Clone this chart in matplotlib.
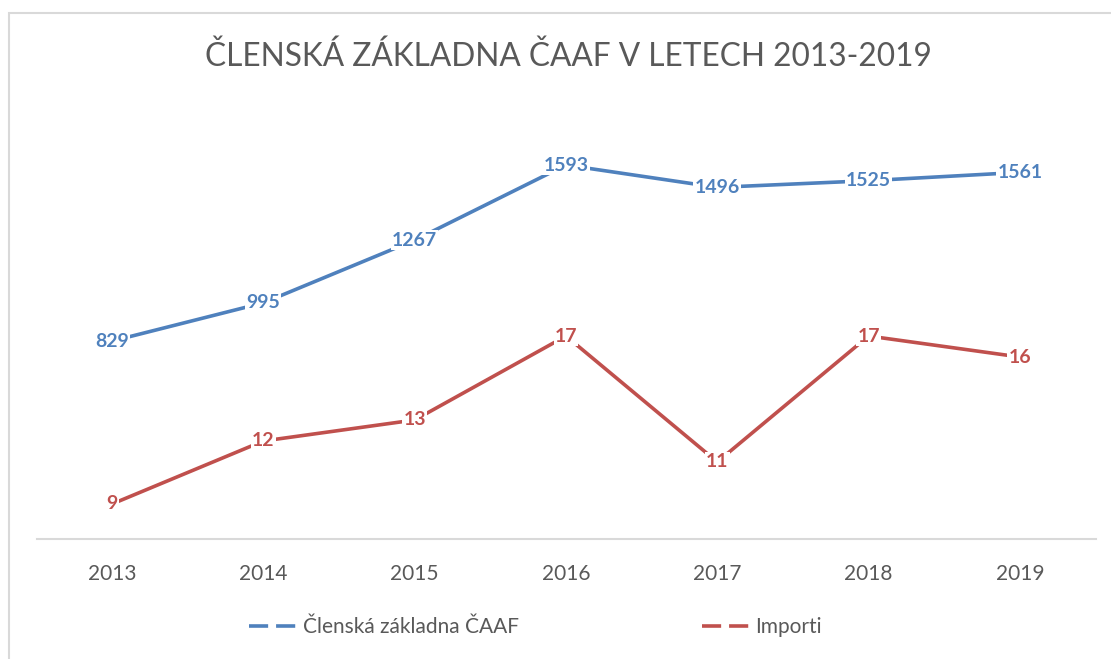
import matplotlib
matplotlib.use("Agg")
import matplotlib.pyplot as plt
from matplotlib.patches import Rectangle
from matplotlib.lines import Line2D

plt.rcParams['font.family'] = ['Lato', 'DejaVu Sans']

years = ['2013', '2014', '2015', '2016', '2017', '2018', '2019']
clenove = [829, 995, 1267, 1593, 1496, 1525, 1561]
importi = [9, 12, 13, 17, 11, 17, 16]

blue = '#4f81bd'
red = '#c0504d'
grey = '#595959'

fig = plt.figure(figsize=(11.11, 6.59), dpi=100)

# chart border (light grey frame)
fig.patches.append(Rectangle((9 / 1111, -0.2), 1.5, 0.2 + 1 - 13 / 659,
                             transform=fig.transFigure, fill=False,
                             edgecolor='#d9d9d9', lw=1.5))

ax = fig.add_axes([36.5 / 1111, 120 / 659, 1059 / 1111, 415 / 659])
ax2 = ax.twinx()

x = list(range(len(years)))
ax.plot(x, clenove, color=blue, lw=2.6, solid_capstyle='round')
ax2.plot(x, importi, color=red, lw=2.6, solid_capstyle='round')

ax.set_xlim(-0.5, len(years) - 0.5)
ax.set_ylim(-30, 1771)
ax2.set_ylim(7.33, 27.1)

for xi, v in zip(x, clenove):
    ax.text(xi, v, str(v), color=blue, fontsize=14, fontweight='bold',
            ha='center', va='center',
            bbox=dict(facecolor='white', edgecolor='none', pad=0.8))
for xi, v in zip(x, importi):
    ax2.text(xi, v, str(v), color=red, fontsize=14, fontweight='bold',
             ha='center', va='center',
             bbox=dict(facecolor='white', edgecolor='none', pad=0.8))

for a in (ax, ax2):
    for s in ('top', 'left', 'right'):
        a.spines[s].set_visible(False)
    a.set_yticks([])
    a.tick_params(axis='y', length=0)
ax2.spines['bottom'].set_visible(False)
ax.spines['bottom'].set_color('#d9d9d9')
ax.spines['bottom'].set_linewidth(1.5)

ax.set_xticks(x)
ax.set_xticklabels(years, fontsize=15, color=grey)
ax.tick_params(axis='x', length=0, pad=18)

fig.text(0.512, 1 - 57 / 659, 'ČLENSKÁ ZÁKLADNA ČAAF V LETECH 2013-2019',
         ha='center', va='center', fontsize=22.8, color=grey)

handles = [Line2D([], [], color=blue, lw=2.6, linestyle=(0, (5.3, 2.2))),
           Line2D([], [], color=red, lw=2.6, linestyle=(0, (5.3, 2.2)))]
fig.legend(handles, ['Členská základna ČAAF', 'Importi'],
           loc='center', bbox_to_anchor=(0.482, 1 - 627 / 659), ncol=2,
           frameon=False, fontsize=15, labelcolor=grey,
           handlelength=2.4, handletextpad=0.15, columnspacing=8.8)

fig.savefig('out.png', dpi=100)
